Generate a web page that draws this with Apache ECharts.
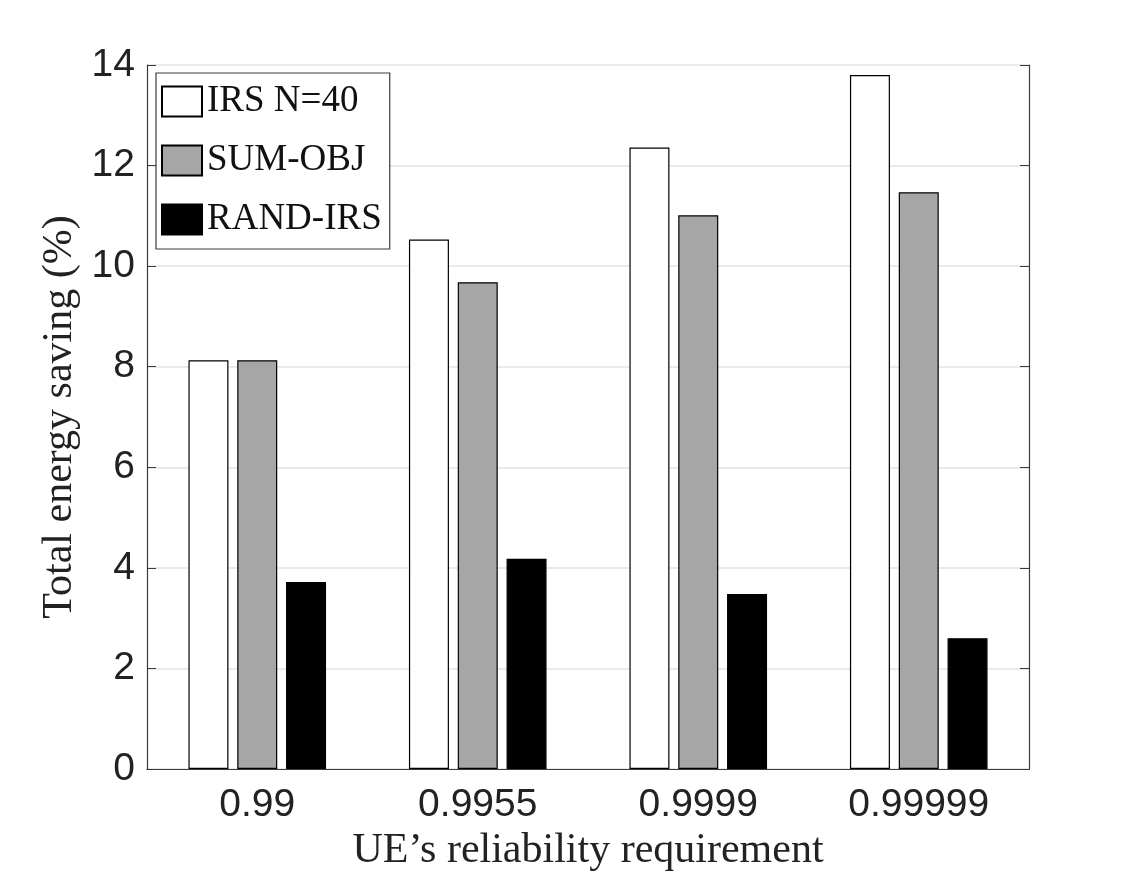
<!DOCTYPE html>
<html>
<head>
<meta charset="utf-8">
<script src="https://cdn.jsdelivr.net/npm/echarts@6/dist/echarts.min.js"></script>
<style>
  html, body { margin: 0; padding: 0; background: #fff; }
  #main { width: 1138px; height: 885px; }
</style>
</head>
<body>
<div id="main"></div>
<script>
// reliability requirement levels
var categories = ['0.99', '0.9955', '0.9999', '0.99999'];
var seriesNames = ['IRS N=40', 'SUM-OBJ', 'RAND-IRS'];
// energy saving values (%)
var irsN40 = [8.13, 10.53, 12.36, 13.80];
var sumObj = [8.13, 9.68, 11.01, 11.47];
var randIrs = [3.72, 4.18, 3.48, 2.60];
var yTicks = [0, 2, 4, 6, 8, 10, 12, 14];

var axisColor = '#3a3a3a';
var serif = '"Liberation Serif", "Times New Roman", serif';
var sans = '"Liberation Sans", Arial, sans-serif';

var myChart = echarts.init(document.getElementById('main'));

function barSeries(name, data, color) {
    return {
        name: name,
        type: 'bar',
        data: data,
        barWidth: 40,
        barGap: '22%',
        itemStyle: { color: color, borderColor: '#000', borderWidth: 1.2 }
    };
}

var option = {
    backgroundColor: '#fff',
    animation: false,
    grid: { left: 147, right: 109, top: 65, bottom: 116 },
    legend: {
        orient: 'vertical',
        left: 156,
        top: 73,
        padding: [10, 8, 11, 5],
        itemWidth: 40,
        itemHeight: 30,
        itemGap: 22,
        icon: 'rect',
        backgroundColor: '#fff',
        borderColor: axisColor,
        borderWidth: 1.2,
        data: seriesNames,
        textStyle: { fontFamily: serif, fontSize: 37, color: '#111' }
    },
    xAxis: [
        {
            type: 'category',
            data: categories,
            position: 'bottom',
            name: "UE\u2019s reliability requirement",
            nameLocation: 'middle',
            nameGap: 60,
            nameTextStyle: { fontFamily: serif, fontSize: 42, color: '#222' },
            axisLine: { lineStyle: { color: axisColor, width: 1.2 } },
            axisTick: { inside: true, length: 9, alignWithLabel: true, lineStyle: { color: axisColor } },
            axisLabel: { fontFamily: sans, fontSize: 39, color: '#222', margin: 17 },
            splitLine: { show: false }
        },
        {
            type: 'category',
            data: categories,
            position: 'top',
            axisLine: { lineStyle: { color: axisColor, width: 1.2 } },
            axisTick: { inside: true, length: 9, alignWithLabel: true, lineStyle: { color: axisColor } },
            axisLabel: { show: false },
            splitLine: { show: false }
        }
    ],
    yAxis: [
        {
            type: 'value',
            min: yTicks[0],
            max: yTicks[yTicks.length - 1],
            interval: 2,
            position: 'left',
            name: 'Total energy saving (%)',
            nameLocation: 'middle',
            nameGap: 66,
            nameTextStyle: { fontFamily: serif, fontSize: 42, color: '#222' },
            axisLine: { show: true, lineStyle: { color: axisColor, width: 1.2 } },
            axisTick: { show: true, inside: true, length: 9, lineStyle: { color: axisColor } },
            axisLabel: { fontFamily: sans, fontSize: 39, color: '#222', margin: 12 },
            splitLine: { show: true, lineStyle: { color: '#e3e3e3', width: 1.5 } }
        },
        {
            type: 'value',
            min: yTicks[0],
            max: yTicks[yTicks.length - 1],
            interval: 2,
            position: 'right',
            axisLine: { show: true, lineStyle: { color: axisColor, width: 1.2 } },
            axisTick: { show: true, inside: true, length: 9, lineStyle: { color: axisColor } },
            axisLabel: { show: false },
            splitLine: { show: false }
        }
    ],
    series: [
        barSeries(seriesNames[0], irsN40, '#ffffff'),
        barSeries(seriesNames[1], sumObj, '#a6a6a6'),
        barSeries(seriesNames[2], randIrs, '#000000')
    ]
};

myChart.setOption(option);
</script>
</body>
</html>
